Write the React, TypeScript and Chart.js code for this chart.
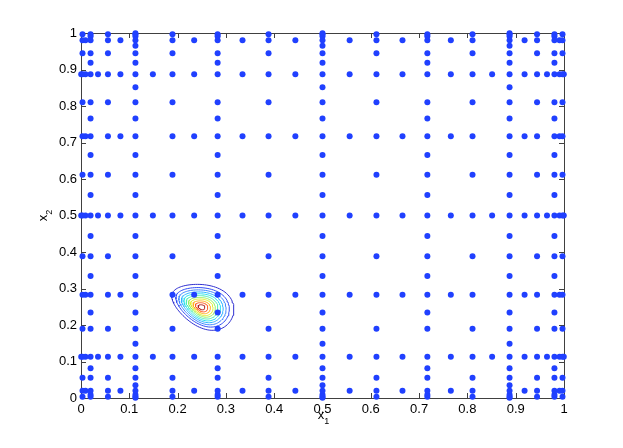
import React, { useEffect, useRef } from "react";
import { Chart, registerables } from "chart.js";

Chart.register(...registerables);

// ---- axis ticks ----
const xTickValues = [0, 0.1, 0.2, 0.3, 0.4, 0.5, 0.6, 0.7, 0.8, 0.9, 1];
const xTickLabels = ["0", "0.1", "0.2", "0.3", "0.4", "0.5", "0.6", "0.7", "0.8", "0.9", "1"];
const yTickValues = [0, 0.1, 0.2, 0.3, 0.4, 0.5, 0.6, 0.7, 0.8, 0.9, 1];
const yTickLabels = ["0", "0.1", "0.2", "0.3", "0.4", "0.5", "0.6", "0.7", "0.8", "0.9", "1"];
const xTitle = ["x", "1"];
const yTitle = ["x", "2"];

// ---- sparse grid nodes (lower half; upper half mirrored about 0.5) ----
const halfNodes = [0.00045, 0.0031, 0.0092, 0.0198, 0.0352, 0.0558, 0.0816, 0.1127, 0.1488, 0.1894, 0.2343, 0.2829, 0.3344, 0.3883, 0.4438];
const halfNodeLevels = [6, 4, 5, 3, 6, 4, 5, 2, 6, 4, 5, 3, 5, 4, 5];
const centreNode = 0.5;
const centreLevel = 1;
// highest x-node level present on a row whose y-node has level 1..6
const maxXLevelForYLevel = [6, 6, 5, 4, 3, 2];

// ---- contour lines (egg-shaped rings around the peak) ----
const contourPeak = [0.249, 0.2485];
const contourOuterCentre = [0.2513, 0.2542];
const contourMajor = [0.0622, -0.0325];
const contourMinor = [0.016, 0.0535];
const contourSkew = 0.25;
const contourScales = [1, 0.86, 0.76, 0.67, 0.59, 0.51, 0.43, 0.36, 0.28, 0.2, 0.11];
const contourColors = ["#3030d0", "#2f4cf5", "#3f86ff", "#2fb4ff", "#2ee0f0", "#4df0b0", "#98f060", "#e0f030", "#ffb020", "#ff5a20", "#b02020"];

const POINT_COLOR = "rgb(32,64,255)";
const AXIS_COLOR = "#404040";
const FONT = "'Liberation Sans', Arial, Helvetica, sans-serif";

function buildNodes() {
  const lower = halfNodes.map((v, i) => ({ v, l: halfNodeLevels[i] }));
  const upper = halfNodes.map((v, i) => ({ v: 1 - v, l: halfNodeLevels[i] })).reverse();
  return [...lower, { v: centreNode, l: centreLevel }, ...upper];
}

function buildGridPoints() {
  const nodes = buildNodes();
  const pts: { x: number; y: number }[] = [];
  for (const ny of nodes) {
    for (const nx of nodes) {
      if (nx.l <= maxXLevelForYLevel[ny.l - 1]) pts.push({ x: nx.v, y: ny.v });
    }
  }
  return pts;
}

function buildContour(scale: number) {
  const pts: { x: number; y: number }[] = [];
  const n = 90;
  for (let i = 0; i <= n; i++) {
    const t = (i / n) * Math.PI * 2;
    const c = Math.cos(t);
    const s = Math.sin(t) * (1 + contourSkew * c);
    const ox = contourOuterCentre[0] + c * contourMajor[0] + s * contourMinor[0];
    const oy = contourOuterCentre[1] + c * contourMajor[1] + s * contourMinor[1];
    pts.push({
      x: contourPeak[0] + scale * (ox - contourPeak[0]),
      y: contourPeak[1] + scale * (oy - contourPeak[1]),
    });
  }
  return pts;
}

const framePlugin = {
  id: "matlabFrame",
  beforeDatasetsDraw(chart: any) {
    const { ctx, chartArea } = chart;
    const { left, right, top, bottom } = chartArea;
    const xs = chart.scales.x;
    const ys = chart.scales.y;
    ctx.save();
    ctx.strokeStyle = AXIS_COLOR;
    ctx.lineWidth = 1;
    ctx.strokeRect(left + 0.5, top + 0.5, right - left, bottom - top);
    const tl = 5;
    ctx.beginPath();
    xTickValues.forEach((v) => {
      const px = Math.round(xs.getPixelForValue(v)) + 0.5;
      ctx.moveTo(px, bottom);
      ctx.lineTo(px, bottom - tl);
      ctx.moveTo(px, top);
      ctx.lineTo(px, top + tl);
    });
    yTickValues.forEach((v) => {
      const py = Math.round(ys.getPixelForValue(v)) + 0.5;
      ctx.moveTo(left, py);
      ctx.lineTo(left + tl, py);
      ctx.moveTo(right, py);
      ctx.lineTo(right - tl, py);
    });
    ctx.stroke();
    ctx.restore();
  },
  afterDraw(chart: any) {
    const { ctx, chartArea } = chart;
    ctx.save();
    ctx.fillStyle = "#000";
    ctx.textBaseline = "alphabetic";
    ctx.textAlign = "left";
    const main = `13px ${FONT}`;
    const sub = `9px ${FONT}`;
    // x title
    ctx.font = main;
    const wMain = ctx.measureText(xTitle[0]).width;
    ctx.font = sub;
    const wSub = ctx.measureText(xTitle[1]).width;
    const cx = (chartArea.left + chartArea.right) / 2 + 1;
    const x0 = cx - (wMain + wSub) / 2;
    ctx.font = main;
    ctx.fillText(xTitle[0], x0, 419);
    ctx.font = sub;
    ctx.fillText(xTitle[1], x0 + wMain, 424);
    // y title (rotated)
    ctx.translate(47, (chartArea.top + chartArea.bottom) / 2);
    ctx.rotate(-Math.PI / 2);
    ctx.font = main;
    const yMain = ctx.measureText(yTitle[0]).width;
    ctx.font = sub;
    const ySub = ctx.measureText(yTitle[1]).width;
    const y0 = -(yMain + ySub) / 2;
    ctx.font = main;
    ctx.fillText(yTitle[0], y0, 0);
    ctx.font = sub;
    ctx.fillText(yTitle[1], y0 + yMain, 5);
    ctx.restore();
  },
};

export default function App() {
  const ref = useRef<HTMLCanvasElement | null>(null);
  useEffect(() => {
    if (!ref.current) return;
    Chart.defaults.font.family = FONT;
    const contourSets = contourScales.map((s, i) => ({
      type: "scatter" as const,
      data: buildContour(s),
      showLine: true,
      borderColor: contourColors[i],
      backgroundColor: contourColors[i],
      borderWidth: 1,
      pointRadius: 0,
      fill: false,
      tension: 0,
      order: 2,
    }));
    const chart = new Chart(ref.current, {
      type: "scatter",
      data: {
        datasets: [
          {
            data: buildGridPoints(),
            backgroundColor: POINT_COLOR,
            borderColor: POINT_COLOR,
            pointRadius: 3,
            pointBorderWidth: 0,
            showLine: false,
            clip: false as any,
            order: 0,
          } as any,
          ...contourSets,
        ],
      },
      options: {
        animation: false,
        responsive: false,
        events: [],
        layout: { padding: { top: 33, right: 59, left: 0, bottom: 0 } },
        plugins: { legend: { display: false }, tooltip: { enabled: false } },
        scales: {
          x: {
            type: "linear",
            min: 0,
            max: 1,
            grid: { display: false, drawTicks: false },
            border: { display: false },
            afterBuildTicks: (scale: any) => {
              scale.ticks = xTickValues.map((v) => ({ value: v }));
            },
            afterFit: (scale: any) => {
              scale.height = 50;
            },
            ticks: {
              padding: 4,
              color: "#000",
              font: { size: 13, family: FONT },
              maxRotation: 0,
              autoSkip: false,
              callback: (_v: any, i: number) => xTickLabels[i],
            },
          },
          y: {
            type: "linear",
            min: 0,
            max: 1,
            grid: { display: false, drawTicks: false },
            border: { display: false },
            afterBuildTicks: (scale: any) => {
              scale.ticks = yTickValues.map((v) => ({ value: v }));
            },
            afterFit: (scale: any) => {
              scale.width = 81;
            },
            ticks: {
              padding: 4,
              color: "#000",
              font: { size: 13, family: FONT },
              autoSkip: false,
              callback: (_v: any, i: number) => yTickLabels[i],
            },
          },
        },
      },
      plugins: [framePlugin],
    } as any);
    return () => chart.destroy();
  }, []);
  return (
    <div style={{ position: "fixed", left: 0, top: 0, width: 623, height: 448, background: "#fff" }}>
      <canvas ref={ref} width={623} height={448} style={{ display: "block" }} />
    </div>
  );
}
